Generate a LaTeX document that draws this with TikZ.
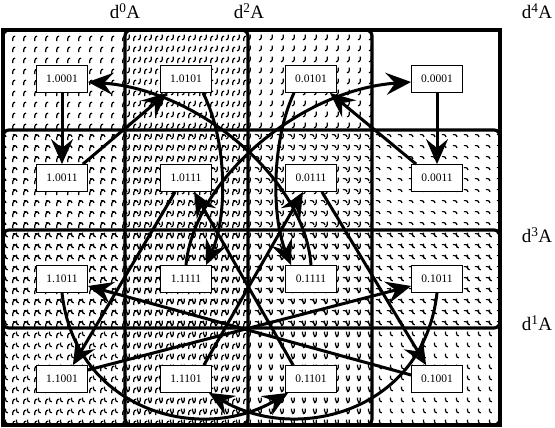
\documentclass[tikz,border=0pt]{standalone}
\usepackage{fontspec}
\setmainfont{Liberation Serif}
\usetikzlibrary{arrows.meta,patterns.meta,calc}

\tikzdeclarepattern{name=pZero, type=uncolored,
  bounding box={(0pt,0pt) and (11pt,11pt)}, tile size={(11pt,11pt)},
  code={\draw[line width=1.3pt] (2pt,2pt) -- (2pt,5pt) arc[start angle=180,end angle=90,radius=2.5pt];}}
\tikzdeclarepattern{name=pTwo, type=uncolored,
  bounding box={(0pt,0pt) and (11pt,11pt)}, tile size={(11pt,11pt)},
  code={\draw[line width=1.3pt] (9pt,9pt) -- (9pt,6pt) arc[start angle=0,end angle=-90,radius=2.5pt];}}
\tikzdeclarepattern{name=pThree, type=uncolored,
  bounding box={(0pt,0pt) and (11pt,11pt)}, tile size={(11pt,11pt)},
  code={\draw[line width=1.3pt] (2pt,8pt) -- (4pt,8pt) arc[start angle=90,end angle=0,radius=2.5pt];}}
\tikzdeclarepattern{name=pOne, type=uncolored,
  bounding box={(0pt,0pt) and (11pt,11pt)}, tile size={(11pt,11pt)},
  code={\draw[line width=1.3pt] (6pt,9pt) -- (6pt,7pt) arc[start angle=180,end angle=270,radius=2.5pt];}}

\tikzset{
  statebox/.style={draw, line width=0.8pt, fill=white, minimum width=51pt, minimum height=27pt, inner sep=0pt, font=\fontsize{11.5}{12}\selectfont},
  trans/.style={line width=3pt, -{Stealth[length=25pt,width=22pt,inset=9pt]}},
  region/.style={line width=3.2pt, rounded corners=6pt},
  setlabel/.style={font=\fontsize{19}{20}\selectfont, inner sep=0pt},
}

\begin{document}
\begin{tikzpicture}[x=1pt,y=-1pt]
\useasboundingbox (0,0) rectangle (555,428);
\fill[white] (0,0) rectangle (555,428);

% region textures
\fill[pattern=pZero]  (3,30) rectangle (248,425);
\fill[pattern=pTwo]   (125,30) rectangle (372,425);
\fill[pattern=pThree] (3,130) rectangle (500,328);
\fill[pattern=pOne]   (3,230) rectangle (500,425);

% region borders
\draw[region] (3,30) rectangle (248,425);
\draw[region] (125,30) rectangle (372,425);
\draw[region] (3,130) rectangle (500,328);
\draw[region] (3,230) rectangle (500,425);
\draw[line width=3.5pt] (3,30) rectangle (500,425);

% labels
\node[setlabel] (L0) at (125,11) {d\textsuperscript{0}A};
\node[setlabel] (L2) at (249,11) {d\textsuperscript{2}A};
\node[setlabel] (L4) at (537,11) {d\textsuperscript{4}A};
\node[setlabel] (L3) at (537,235) {d\textsuperscript{3}A};
\node[setlabel] (L1) at (537,323) {d\textsuperscript{1}A};

% states
\node[statebox] (A1) at (62,79)  {1.0001};
\node[statebox] (A2) at (186,79) {1.0101};
\node[statebox] (A3) at (311,79) {0.0101};
\node[statebox] (A4) at (437,79) {0.0001};
\node[statebox] (B1) at (62,178)  {1.0011};
\node[statebox] (B2) at (186,178) {1.0111};
\node[statebox] (B3) at (311,178) {0.0111};
\node[statebox] (B4) at (437,178) {0.0011};
\node[statebox] (C1) at (62,279)  {1.1011};
\node[statebox] (C2) at (186,279) {1.1111};
\node[statebox] (C3) at (311,279) {0.1111};
\node[statebox] (C4) at (437,279) {0.1011};
\node[statebox] (D1) at (62,379)  {1.1001};
\node[statebox] (D2) at (186,379) {1.1101};
\node[statebox] (D3) at (311,379) {0.1101};
\node[statebox] (D4) at (437,379) {0.1001};

% transitions
\draw[trans] (A1) -- (B1);
\draw[trans] (A4) -- (B4);
\draw[trans] ($(B1.north east)+(-5,0)$) -- ($(A2.south west)+(7,0)$);
\draw[trans] ($(B4.north west)+(5,0)$) -- ($(A3.south east)+(-7,0)$);
\draw[trans] ($(A2.south)+(17,0)$) .. controls (227,140) and (228,215) .. ($(C2.north)+(20,0)$);
\draw[trans] ($(A3.south)+(-17,0)$) .. controls (272,140) and (271,215) .. ($(C3.north)+(-20,0)$);
\draw[trans] (C3.north) .. controls (305,180) and (200,90) .. ($(A1.east)+(0,3)$);
\draw[trans] (C2.north) .. controls (194,180) and (299,90) .. ($(A4.west)+(0,3)$);
\draw[trans] ($(B2.south west)+(15,0)$) -- ($(D1.north east)+(-15,0)$);
\draw[trans] ($(B3.south east)+(-15,0)$) -- ($(D4.north west)+(15,0)$);
\draw[trans] ($(D1.east)+(0,-9)$) -- ($(C4.west)+(0,7)$);
\draw[trans] ($(D4.west)+(0,-4)$) -- ($(C1.east)+(0,7)$);
\draw[trans] ($(D2.north east)+(-8,0)$) -- ($(B3.south)+(-8,0)$);
\draw[trans] ($(D3.north west)+(8,0)$) -- ($(B2.south)+(8,0)$);
\draw[trans] (C1.south) .. controls (75,410) and (200,445) .. ($(D3.south west)+(3,0)$);
\draw[trans] (C4.south) .. controls (424,410) and (299,445) .. ($(D2.south east)+(-3,0)$);
\end{tikzpicture}
\end{document}
